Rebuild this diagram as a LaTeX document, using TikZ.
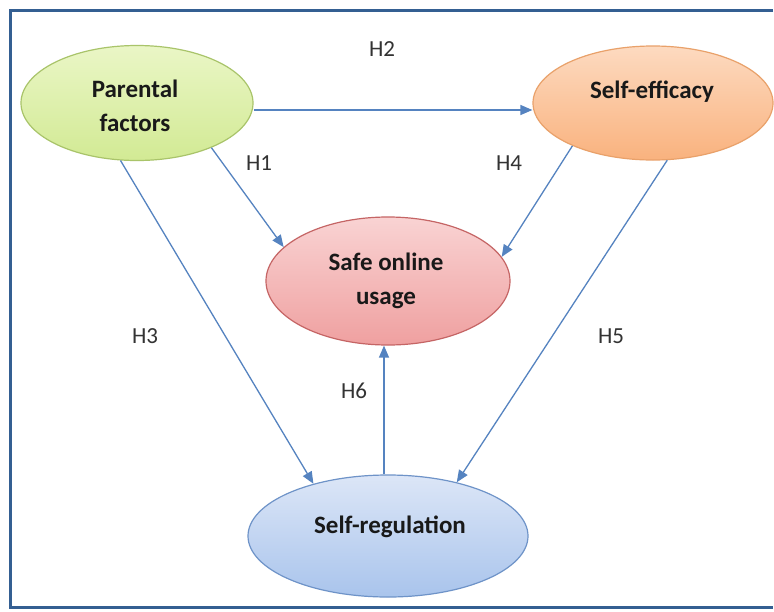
\documentclass[tikz,border=0pt]{standalone}
\usepackage{fontspec}
\setmainfont{Carlito}
\usetikzlibrary{shapes.geometric,arrows.meta}
\definecolor{framec}{HTML}{345F92}
\definecolor{arrowc}{HTML}{5583C0}
\definecolor{gtop}{HTML}{EAF6C6}\definecolor{gbot}{HTML}{D2EA94}\definecolor{gline}{HTML}{A9C46A}
\definecolor{otop}{HTML}{FDDAC0}\definecolor{obot}{HTML}{F9B27E}\definecolor{oline}{HTML}{E9A16A}
\definecolor{rtop}{HTML}{F9D3D3}\definecolor{rbot}{HTML}{EFA0A0}\definecolor{rline}{HTML}{C56565}
\definecolor{btop}{HTML}{DCE6F7}\definecolor{bbot}{HTML}{A9C4EC}\definecolor{bline}{HTML}{6E93C8}
\tikzset{
  oval/.style={ellipse, draw, line width=1.2pt, inner sep=0pt},
  txt/.style={align=center, inner sep=0pt, font=\fontsize{25}{34}\selectfont\bfseries, text=black!90},
  link/.style={draw=arrowc, line width=1.3pt, -{Triangle[length=12pt,width=10pt]}},
  hlab/.style={font=\fontsize{23}{26}\selectfont, text=black!80}
}
\begin{document}
\begin{tikzpicture}[x=1pt,y=-1pt]
\path[use as bounding box, fill=white] (0,0) rectangle (774,611);
\draw[framec, line width=3pt] (773,10) -- (10,10) -- (10,607) -- (773,607);
\node[oval, draw=gline, top color=gtop, bottom color=gbot, minimum width=232pt, minimum height=115pt] (pf) at (137,103) {};
\node[oval, draw=oline, top color=otop, bottom color=obot, minimum width=240pt, minimum height=114pt] (se) at (653,103) {};
\node[oval, draw=rline, top color=rtop, bottom color=rbot, minimum width=244pt, minimum height=128pt] (so) at (388,281) {};
\node[oval, draw=bline, top color=btop, bottom color=bbot, minimum width=280pt, minimum height=122pt] (sr) at (388,536) {};
\node[txt] (pft) at (135,106) {Parental\\factors};
\node[txt] (set) at (652,92) {Self-efficacy};
\node[txt] (sot) at (386,281) {Safe online\\usage};
\node[txt] (srt) at (390,527) {Self-regulation};
\coordinate (pfA) at (255,110);
\coordinate (seA) at (535,110);
\draw[link] (pf.east |- pfA) -- (se.west |- seA);
\draw[link] (pf.-31.7) -- (so.162);
\draw[link] (se.-152.3) -- (so.12);
\draw[link] (pf.-106.6) -- (sr.145);
\draw[link] (se.-76) -- (sr.38);
\draw[link] (sr.north -| 384,0) -- (so.south -| 384,0);
\node[hlab] (h2) at (382,49) {H2};
\node[hlab] (h1) at (259,163) {H1};
\node[hlab] (h4) at (509,163) {H4};
\node[hlab] (h3) at (145,336) {H3};
\node[hlab] (h5) at (611,336) {H5};
\node[hlab] (h6) at (354,391) {H6};
\end{tikzpicture}
\end{document}
